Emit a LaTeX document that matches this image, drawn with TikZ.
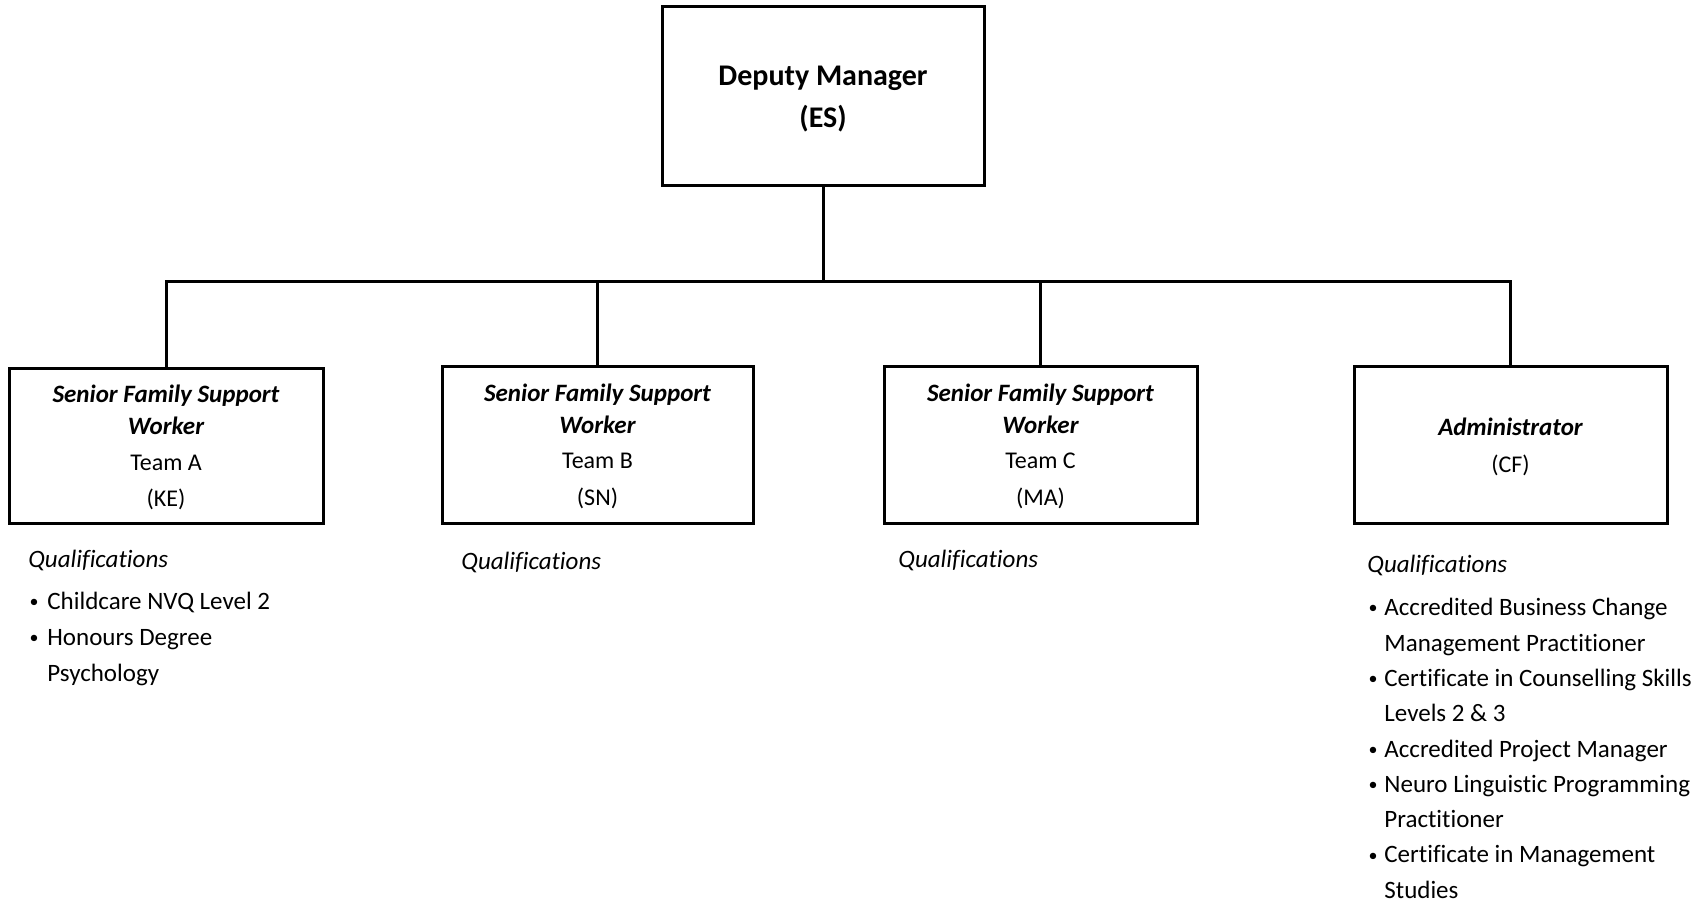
\documentclass[tikz,border=0pt]{standalone}
\usepackage{fontspec}
\setmainfont{Carlito}[Ligatures=NoCommon]
\begin{document}
\begin{tikzpicture}[x=0.5pt,y=-0.5pt,
  box/.style={draw,line width=1.5pt,inner sep=0pt,outer sep=0pt,anchor=north west},
  conn/.style={line width=1.5pt},
  txt/.style={inner sep=0pt,anchor=base},
  big/.style={txt,font=\fontsize{15}{18}\selectfont\bfseries},
  ttl/.style={txt,font=\fontsize{12.5}{15}\selectfont\bfseries\itshape},
  reg/.style={txt,font=\fontsize{12}{14}\selectfont},
  qual/.style={inner sep=0pt,anchor=base west,font=\fontsize{12.5}{15}\selectfont\itshape},
  item/.style={inner sep=0pt,anchor=base west,font=\fontsize{12.5}{15}\selectfont},
  bul/.style={inner sep=0pt,anchor=base,font=\fontsize{9}{11}\selectfont}]
\useasboundingbox (0,0) rectangle (1694,903);

% boxes
\node[box,minimum width=161pt,minimum height=89.5pt] (dm) at (662,7) {};
\node[box,minimum width=157pt,minimum height=77.5pt] (sA) at (9,369) {};
\node[box,minimum width=155.5pt,minimum height=78.5pt] (sB) at (442,367) {};
\node[box,minimum width=156.5pt,minimum height=78.5pt] (sC) at (884,367) {};
\node[box,minimum width=156.5pt,minimum height=78.5pt] (adm) at (1354,367) {};

% connectors
\coordinate (bus) at (dm.south |- 0,282);
\draw[conn] (dm.south) -- (bus);
\draw[conn] (sA.north) -- (sA.north |- bus) -- (adm.north |- bus) -- (adm.north);
\draw[conn] (sB.north) -- (sB.north |- bus);
\draw[conn] (sC.north) -- (sC.north |- bus);

% top box text
\node[big] (dm1) at (823,86) {Deputy Manager};
\node[big] (dm2) at (823,128) {(ES)};

% box A
\node[ttl] (a1) at (166,403) {Senior Family Support};
\node[ttl] (a2) at (166,435) {Worker};
\node[reg] (a3) at (166,471) {Team A};
\node[reg] (a4) at (166,507) {(KE)};
% box B
\node[ttl] (b1) at (597.5,402) {Senior Family Support};
\node[ttl] (b2) at (597.5,434) {Worker};
\node[reg] (b3) at (597.5,469) {Team B};
\node[reg] (b4) at (597.5,506) {(SN)};
% box C
\node[ttl] (c1) at (1040.5,402) {Senior Family Support};
\node[ttl] (c2) at (1040.5,434) {Worker};
\node[reg] (c3) at (1040.5,469) {Team C};
\node[reg] (c4) at (1040.5,506) {(MA)};
% admin
\node[ttl] (d1) at (1510.5,436) {Administrator};
\node[reg] (d2) at (1510.5,473) {(CF)};

% qualifications
\node[qual] (qa) at (28,568) {Qualifications};
\node[qual] (qb) at (461,570) {Qualifications};
\node[qual] (qc) at (898,568) {Qualifications};
\node[qual] (qd) at (1367,573) {Qualifications};

% A list
\node[bul] (ba1) at (34,608) {•};
\node[item] (ia1) at (47,610) {Childcare NVQ Level 2};
\node[bul] (ba2) at (34,644) {•};
\node[item] (ia2) at (47,646) {Honours Degree};
\node[item] (ia3) at (47,682) {Psychology};

% admin list
\node[bul] (bd1) at (1373,614) {•};
\node[item] (id1) at (1384,616) {Accredited Business Change};
\node[item] (id2) at (1384,651.5) {Management Practitioner};
\node[bul] (bd2) at (1373,685) {•};
\node[item] (id3) at (1384,687) {Certificate in Counselling Skills};
\node[item] (id4) at (1384,722) {Levels 2 \& 3};
\node[bul] (bd3) at (1373,755) {•};
\node[item] (id5) at (1384,757) {Accredited Project Manager};
\node[bul] (bd4) at (1373,790.5) {•};
\node[item] (id6) at (1384,792.5) {Neuro Linguistic Programming};
\node[item] (id7) at (1384,827.5) {Practitioner};
\node[bul] (bd5) at (1373,861) {•};
\node[item] (id8) at (1384,863) {Certificate in Management};
\node[item] (id9) at (1384,898) {Studies};
\end{tikzpicture}
\end{document}
